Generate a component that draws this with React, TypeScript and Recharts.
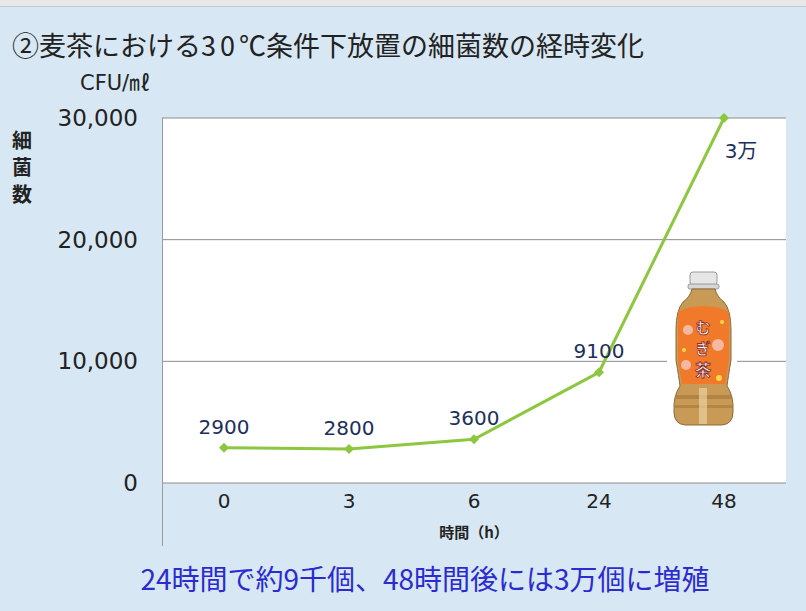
import { LineChart, Line, XAxis, YAxis, CartesianGrid, LabelList } from "recharts";

const hours = ["0", "3", "6", "24", "48"];
const counts = [2900, 2800, 3600, 9100, 30000];
const pointLabels = ["2900", "2800", "3600", "9100", "3万"];
const yTicks = [0, 10000, 20000, 30000];

const data = hours.map((h, i) => ({ hour: h, count: counts[i], label: pointLabels[i] }));

const JP = "'Noto Sans CJK JP', sans-serif";
const NUM = "'DejaVu Sans', 'Noto Sans CJK JP', sans-serif";
const GREEN = "#8dc63f";
const NAVY = "#1c2f5c";

function Diamond(props: any) {
  const { cx, cy } = props;
  if (cx == null || cy == null) return null;
  const r = 5;
  return (
    <polygon
      points={`${cx},${cy - r} ${cx + r},${cy} ${cx},${cy + r} ${cx - r},${cy}`}
      fill={GREEN}
    />
  );
}

function PointLabel(props: any) {
  const { x, y, value, index } = props;
  const last = index === counts.length - 1;
  return (
    <text
      x={last ? x + 17 : x}
      y={last ? y + 33 : y - 21}
      textAnchor="middle"
      dominantBaseline="central"
      fill={NAVY}
      fontSize={20}
      fontFamily={NUM}
    >
      {value}
    </text>
  );
}

function Bottle() {
  const letter = { textAnchor: "middle" as const, fill: "#ffffff", stroke: "#8b2a2a", strokeWidth: 0.8, fontWeight: 700, fontFamily: JP };
  return (
    <g>
      {/* white backing of the picture */}
      <rect x={667} y={262} width={70} height={170} fill="#ffffff" />
      {/* cap */}
      <rect x={690} y={272} width={27} height={13} rx={3} fill="#e6e6e6" stroke="#9a9a9a" />
      <rect x={688} y={284} width={31} height={5} rx={2} fill="#d6d6d6" stroke="#9a9a9a" />
      {/* neck + body */}
      <path
        d="M692 289 L715 289 Q717 297 724 302 Q731 310 731 330 L731 360 Q728 378 727 386 Q734 396 733 412 Q733 424 722 425 L685 425 Q674 424 674 412 Q673 396 680 386 Q679 378 676 360 L676 330 Q676 310 683 302 Q690 297 692 289 Z"
        fill="#c99a55"
        stroke="#8a6a3a"
        strokeWidth={1}
      />
      {/* orange label */}
      <path
        d="M678 312 Q688 306 703 306 Q719 306 729 312 L729 360 Q726 378 725 384 L682 384 Q681 378 678 360 Z"
        fill="#f07a2a"
      />
      <circle cx={688} cy={330} r={5} fill="#f5b8a0" />
      <circle cx={718} cy={345} r={6} fill="#f5b8a0" />
      <circle cx={686} cy={365} r={5} fill="#f5b8a0" />
      <circle cx={722} cy={322} r={2} fill="#ffd84a" />
      <circle cx={684} cy={350} r={2} fill="#ffd84a" />
      <circle cx={719} cy={378} r={3} fill="#ffd84a" />
      {/* stripes */}
      <rect x={676} y={395} width={56} height={4} fill="#a77a3c" opacity={0.7} />
      <rect x={675} y={405} width={58} height={3} fill="#a77a3c" opacity={0.6} />
      <rect x={699} y={388} width={8} height={36} fill="#f1dcae" opacity={0.6} />
      <text x={703} y={333} fontSize={15} {...letter}>む</text>
      <text x={703} y={354} fontSize={15} {...letter}>ぎ</text>
      <text x={703} y={376} fontSize={16} {...letter}>茶</text>
    </g>
  );
}

export default function App() {
  return (
    <div
      style={{
        position: "fixed",
        left: 0,
        top: 0,
        width: 806,
        height: 611,
        background: "#d7e7f3",
        overflow: "hidden",
        fontFamily: JP,
      }}
    >
      <div style={{ position: "absolute", left: 0, top: 0, width: 806, height: 6, background: "#e8e8e8", borderBottom: "1px solid #c9c9c9" }} />

      <div style={{ position: "absolute", left: 12, top: 26, fontSize: 27, lineHeight: "38px", color: "#222", whiteSpace: "nowrap" }}>
        ②麦茶における<span style={{ letterSpacing: 4 }}>30</span>℃条件下放置の細菌数の経時変化
      </div>

      <div style={{ position: "absolute", left: 80, top: 70, fontSize: 21, lineHeight: "26px", color: "#222", fontFamily: NUM, whiteSpace: "nowrap" }}>
        CFU/㎖
      </div>

      <div style={{ position: "absolute", left: 12, top: 126, width: 22, fontSize: 20, lineHeight: "27px", color: "#222", fontWeight: 700 }}>
        細<br />菌<br />数
      </div>

      <LineChart
        width={806}
        height={611}
        data={data}
        margin={{ top: 118, right: 20, bottom: 68, left: 0 }}
        style={{ position: "absolute", left: 0, top: 0 }}
      >
        <CartesianGrid vertical={false} stroke="#8c8c8c" fill="#ffffff" fillOpacity={1} />
        <XAxis
          dataKey="hour"
          type="category"
          height={60}
          padding={{ left: 62, right: 62 }}
          axisLine={false}
          tickLine={false}
          tickSize={0}
          tickMargin={11}
          tick={{ fontSize: 20, fill: "#222", fontFamily: NUM }}
          interval={0}
        />
        <YAxis
          type="number"
          domain={[0, 30000]}
          ticks={yTicks}
          width={162}
          axisLine={false}
          tickLine={false}
          tickSize={0}
          tickMargin={24}
          tickFormatter={(v: number) => v.toLocaleString("en-US")}
          tick={{ fontSize: 23, fill: "#222", fontFamily: NUM }}
        />
        <Line
          type="linear"
          dataKey="count"
          stroke={GREEN}
          strokeWidth={3}
          dot={<Diamond />}
          activeDot={false}
          isAnimationActive={false}
        >
          <LabelList dataKey="label" content={<PointLabel />} />
        </Line>
      </LineChart>

      <svg width={806} height={611} style={{ position: "absolute", left: 0, top: 0, pointerEvents: "none" }}>
        <line x1={162.5} y1={118} x2={162.5} y2={546} stroke="#9a9a9a" strokeWidth={1} />
        <Bottle />
        <text x={474} y={531} textAnchor="middle" dominantBaseline="central" fontSize={15} fontWeight={700} fill="#222" fontFamily={JP}>
          時間（h）
        </text>
      </svg>

      <div style={{ position: "absolute", left: 0, width: 806, top: 559, textAlign: "center", fontSize: 28, lineHeight: "38px", color: "#2b2bd0", whiteSpace: "nowrap" }}>
        <span style={{ position: "relative", left: 22 }}>24時間で約9千個、48時間後には3万個に増殖</span>
      </div>
    </div>
  );
}
